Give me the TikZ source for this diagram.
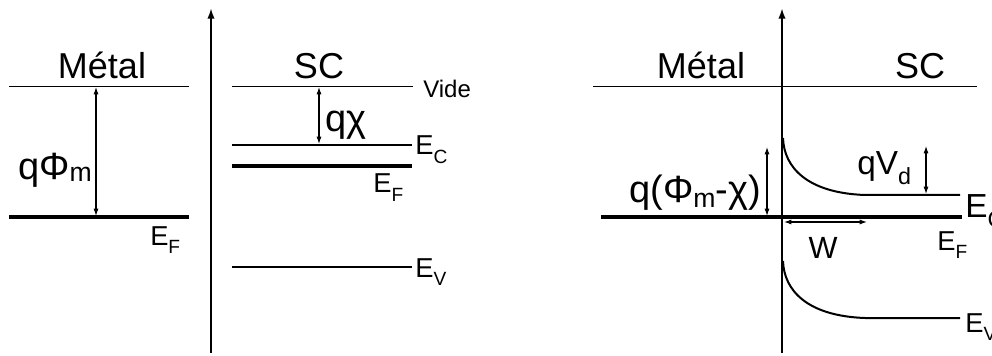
\documentclass[tikz,border=0pt]{standalone}
\usepackage{fontspec}
\setmainfont{Liberation Sans}
\usetikzlibrary{arrows.meta}
\newcommand\lsub[2][0.15em]{\raisebox{-#1}{\scalebox{0.7}{#2}}}
\begin{document}
\begin{tikzpicture}[x=0.75pt,y=-0.75pt,
  vac/.style={line width=0.75pt},
  band/.style={line width=1.5pt},
  fermi/.style={line width=2.4pt},
  axis/.style={line width=1.5pt,-{Latex[length=8pt,width=5.5pt]}},
  dbl/.style={line width=0.85pt,{Latex[length=5.5pt,width=3.8pt]}-{Latex[length=5.5pt,width=3.8pt]}},
  big/.style={inner sep=0pt,font=\fontsize{27pt}{30pt}\selectfont},
  bigq/.style={inner sep=0pt,font=\fontsize{28.5pt}{31pt}\selectfont},
  mid/.style={inner sep=0pt,font=\fontsize{25pt}{28pt}\selectfont},
  lab/.style={inner sep=0pt,font=\fontsize{20.5pt}{23pt}\selectfont},
  vide/.style={inner sep=0pt,font=\fontsize{18pt}{20pt}\selectfont}]
\clip (0,0) rectangle (992,356);
% ---------- left: metal ----------
\coordinate (mvL) at (9,87);   \coordinate (mvR) at (189,87);
\coordinate (mfL) at (9,217);  \coordinate (mfR) at (189,217);
\coordinate (phT) at (96,87);  \coordinate (phB) at (96,216);
\draw[vac] (mvL) -- (mvR);
\draw[fermi] (mfL) -- (mfR);
\draw[dbl] (phT) -- (phB);
\node[big,anchor=base] (metalA) at (102,79) {Métal};
\node[bigq,anchor=base west] (qphi) at (18,180) {qΦ\lsub[0.05em]{m}};
\node[lab,anchor=base west] (efA) at (150,245) {E\lsub[0.3em]{F}};
% ---------- middle axis ----------
\coordinate (axAb) at (211,353); \coordinate (axAt) at (211,8);
\draw[axis] (axAb) -- (axAt);
% ---------- left: semiconductor ----------
\coordinate (svL) at (232,87);  \coordinate (svR) at (413,87);
\coordinate (scL) at (232,145); \coordinate (scR) at (412,145);
\coordinate (sfL) at (232,166); \coordinate (sfR) at (412,166);
\coordinate (sbL) at (232,267); \coordinate (sbR) at (412,267);
\coordinate (chT) at (319,87);  \coordinate (chB) at (319,144);
\draw[vac] (svL) -- (svR);
\draw[band] (scL) -- (scR);
\draw[fermi] (sfL) -- (sfR);
\draw[band] (sbL) -- (sbR);
\draw[dbl] (chT) -- (chB);
\node[big,anchor=base] (scA) at (319,79) {SC};
\node[vide,anchor=base west] (vide) at (423,98) {Vide};
\node[bigq,anchor=base west] (qchi) at (325,132) {qχ};
\node[lab,anchor=base west] (ecA) at (415,155) {E\lsub[0.3em]{C}};
\node[lab,anchor=base west] (efB) at (373,193) {E\lsub[0.3em]{F}};
\node[lab,anchor=base west] (evA) at (415,277) {E\lsub[0.3em]{V}};
% ---------- right: contact ----------
\coordinate (axBb) at (782,353); \coordinate (axBt) at (782,8);
\coordinate (rvL) at (593,87);  \coordinate (rvR) at (977,87);
\coordinate (rfL) at (601,217); \coordinate (rfR) at (962,217);
\coordinate (c0) at (783,138); \coordinate (c1) at (865,195); \coordinate (c2) at (960,195);
\coordinate (v0) at (783,261); \coordinate (v1) at (865,318); \coordinate (v2) at (960,318);
\coordinate (bhT) at (767,147); \coordinate (bhB) at (767,216);
\coordinate (vdT) at (926,146); \coordinate (vdB) at (926,194);
\coordinate (wL) at (784,222);  \coordinate (wR) at (867,222);
\draw[vac] (rvL) -- (rvR);
\draw[fermi] (rfL) -- (rfR);
\draw[axis] (axBb) -- (axBt);
\draw[band] (c0) .. controls (784,168) and (808,193) .. (c1) -- (c2);
\draw[band] (v0) .. controls (784,291) and (808,316) .. (v1) -- (v2);
\draw[dbl] (bhT) -- (bhB);
\draw[dbl] (vdT) -- (vdB);
\draw[dbl] (wL) -- (wR);
\node[big,anchor=base] (metalB) at (701,79) {Métal};
\node[big,anchor=base] (scB) at (920,79) {SC};
\node[bigq,anchor=base west] (qbar) at (629,203) {q(Φ\lsub[0.12em]{m}-χ)};
\node[mid,anchor=base west] (qvd) at (857,175) {qV\lsub[0.3em]{d}};
\node[lab,font=\fontsize{23pt}{26pt}\selectfont,anchor=base] (wlab) at (823,258) {W};
\node[lab,font=\fontsize{25pt}{28pt}\selectfont,anchor=base west] (ecB) at (965,217) {E\lsub[0.3em]{C}};
\node[lab,anchor=base west] (efC) at (937,250) {E\lsub[0.3em]{F}};
\node[lab,anchor=base west] (evB) at (965,332) {E\lsub[0.3em]{V}};
\end{tikzpicture}
\end{document}
